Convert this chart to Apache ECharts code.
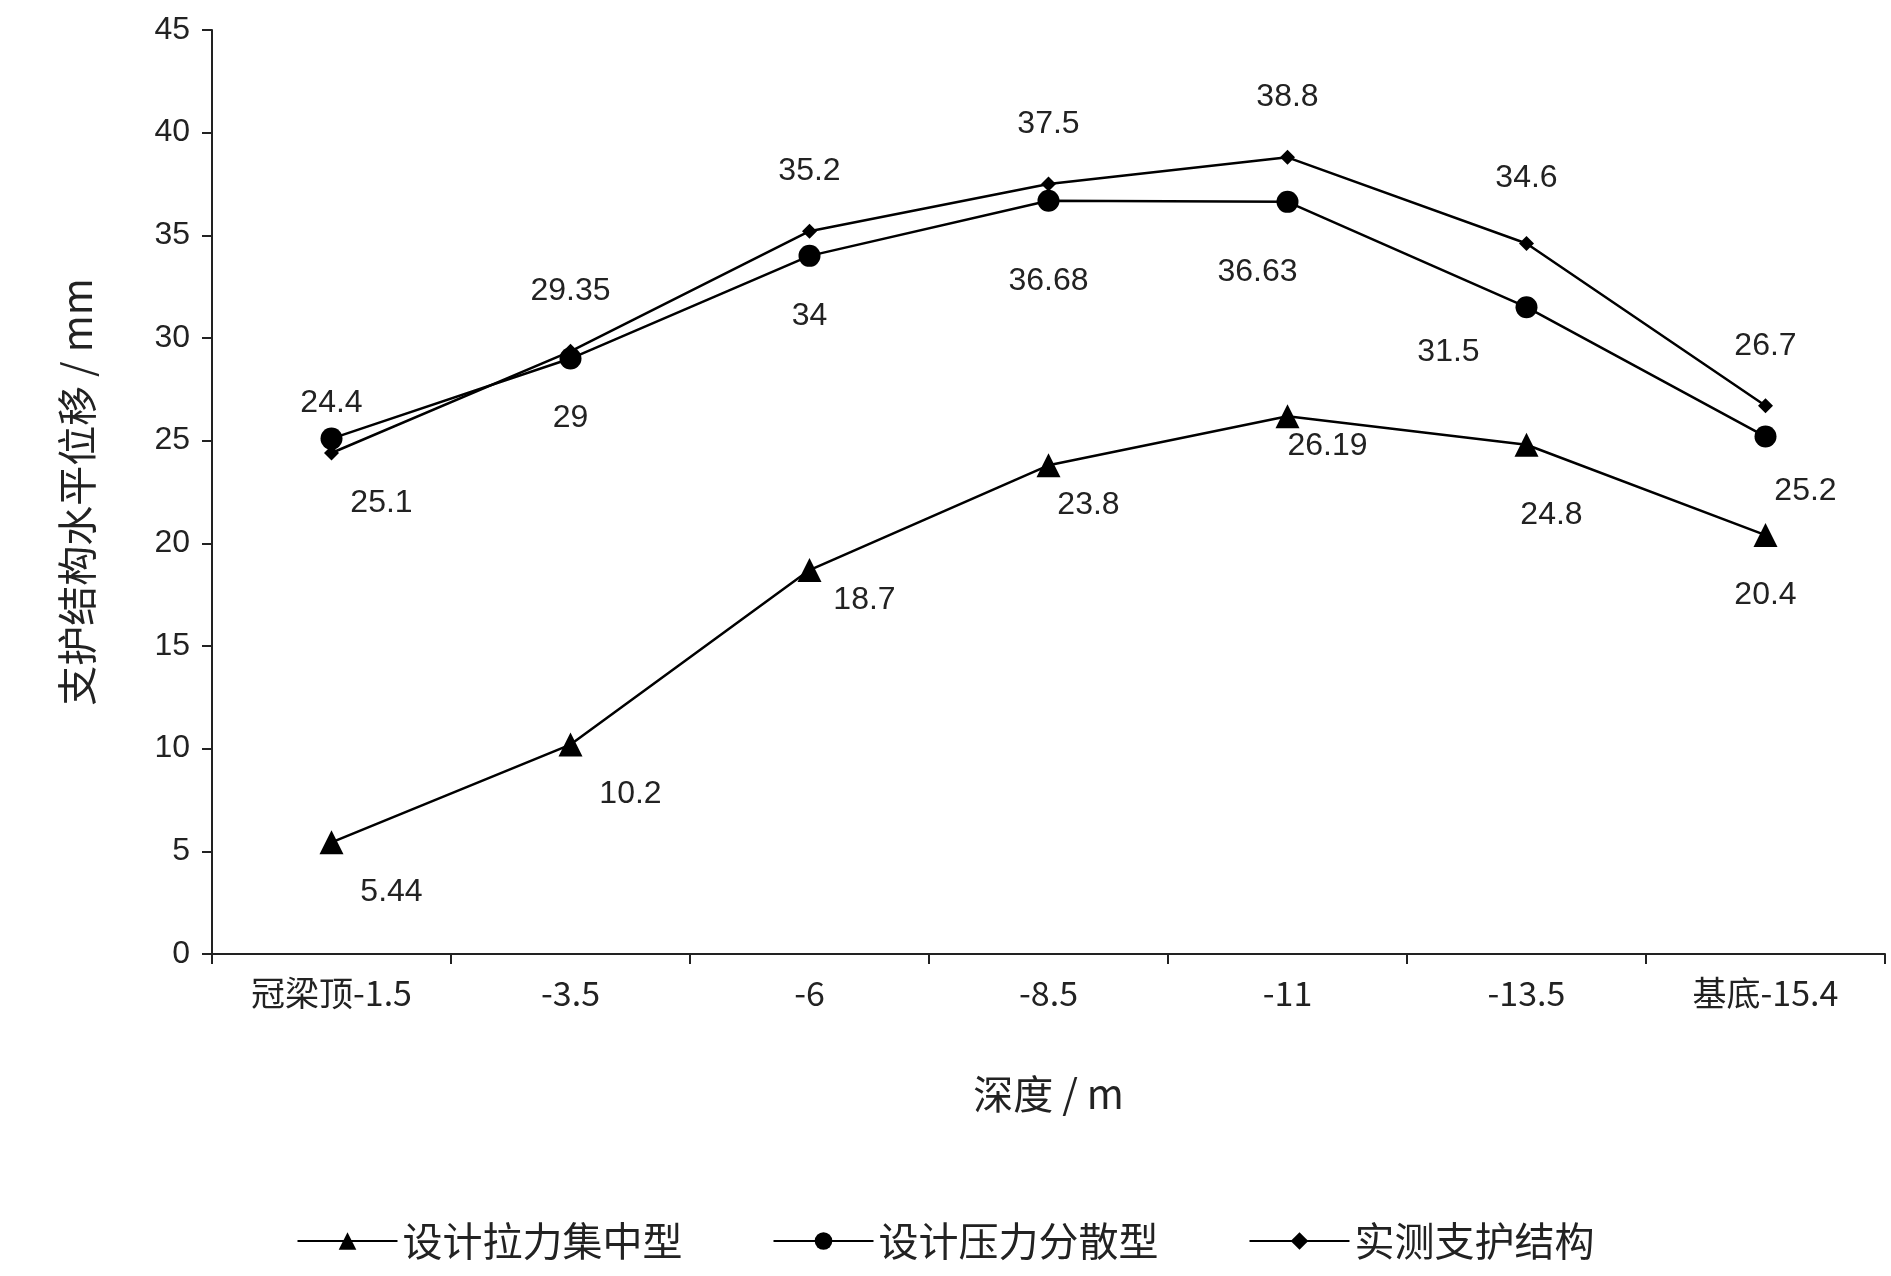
<!DOCTYPE html>
<html><head><meta charset="utf-8">
<script src="https://cdn.jsdelivr.net/npm/echarts@6/dist/echarts.min.js"></script>
<style>html,body{margin:0;padding:0;background:#fff}#c{width:1891px;height:1276px}</style>
</head><body><div id="c"></div>
<script>
const categories = ['冠梁顶-1.5','-3.5','-6','-8.5','-11','-13.5','基底-15.4'];
const tension = [5.44,10.2,18.7,23.8,26.19,24.8,20.4];
const compression = [25.1,29,34,36.68,36.63,31.5,25.2];
const measured = [24.4,29.35,35.2,37.5,38.8,34.6,26.7];
const yTicks = {min:0,max:45,interval:5};

const tensionOff = [[60,50],[60,50],[55,30],[40,40],[40,30],[25,70],[0,60]];
const compOff = [[50,65],[0,60],[0,60],[0,80],[-30,70],[-78,45],[40,55]];
const measOff = [[0,-50],[0,-60],[0,-60],[0,-60],[0,-60],[0,-65],[0,-60]];
const FS = 32, TC = '#222';
function mk(vals, offs){
  return vals.map((v,i)=>({value:v,label:{offset:offs[i]}}));
}
const base = {type:'line',lineStyle:{color:'#000',width:2.5},itemStyle:{color:'#000'},
  label:{show:true,position:'inside',fontSize:FS,color:TC,fontFamily:'Liberation Sans'}};
const chart = echarts.init(document.getElementById('c'));
chart.setOption({
  animation:false,
  textStyle:{fontFamily:'Noto Sans CJK SC'},
  grid:{left:212,right:6,top:30,bottom:322},
  legend:{bottom:10,left:'center',itemWidth:100,itemHeight:22,itemGap:90,
    textStyle:{fontSize:40,color:TC,fontFamily:'Noto Sans CJK SC'},
    data:['设计拉力集中型','设计压力分散型','实测支护结构']},
  xAxis:{type:'category',data:categories,boundaryGap:true,
    name:'深度 / m',nameLocation:'middle',nameGap:120,
    nameTextStyle:{fontSize:40,color:TC},
    axisLine:{lineStyle:{color:'#222',width:2}},
    axisTick:{show:true,length:10,lineStyle:{color:'#222',width:2}},
    axisLabel:{fontSize:34,color:TC,margin:22,fontFamily:'Noto Sans CJK SC'}},
  yAxis:{type:'value',min:yTicks.min,max:yTicks.max,interval:yTicks.interval,
    name:'支护结构水平位移 / mm',nameLocation:'middle',nameRotate:90,nameGap:115,
    nameTextStyle:{fontSize:40,color:TC},
    splitLine:{show:false},
    axisLine:{show:true,lineStyle:{color:'#222',width:2}},
    axisTick:{show:true,length:10,inside:false,lineStyle:{color:'#222',width:2}},
    axisLabel:{fontSize:32,color:TC,margin:22,fontFamily:'Liberation Sans'}},
  series:[
    Object.assign({},base,{name:'设计拉力集中型',symbol:'triangle',symbolSize:24,data:mk(tension,tensionOff)}),
    Object.assign({},base,{name:'设计压力分散型',symbol:'circle',symbolSize:22,data:mk(compression,compOff)}),
    Object.assign({},base,{name:'实测支护结构',symbol:'diamond',symbolSize:15,data:mk(measured,measOff)})
  ]
});
</script></body></html>
